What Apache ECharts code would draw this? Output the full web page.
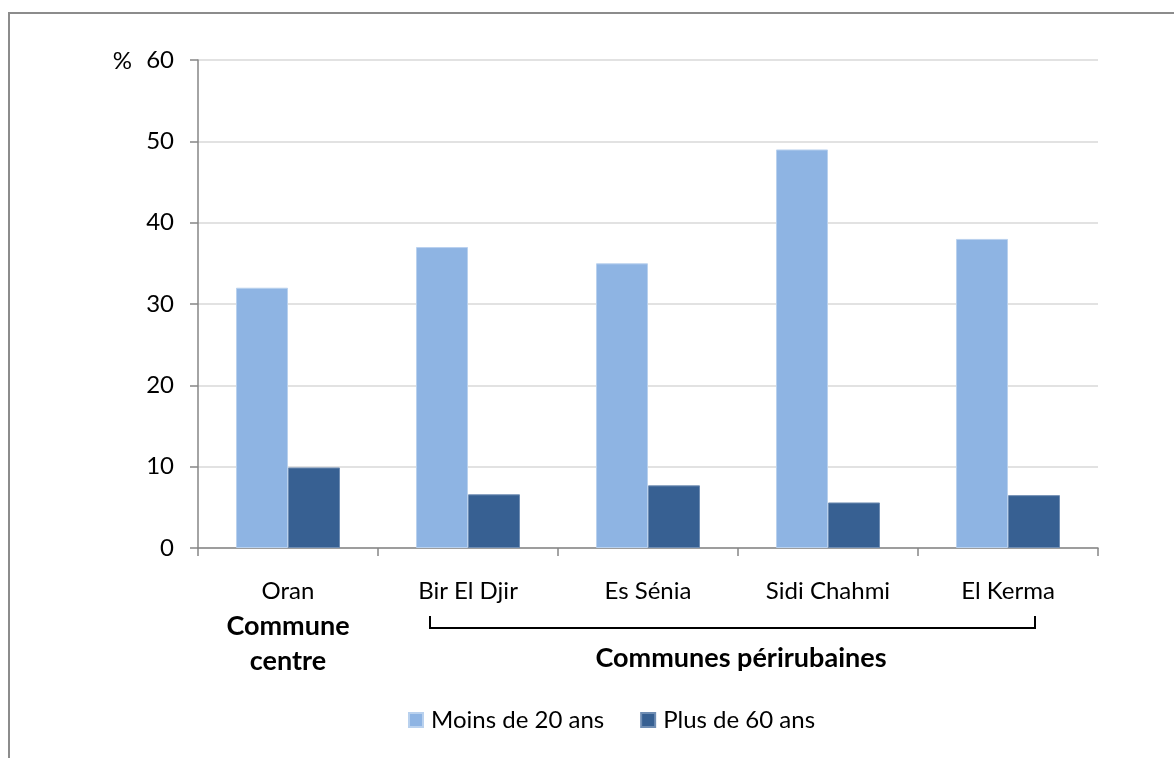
<!DOCTYPE html>
<html>
<head>
<meta charset="utf-8">
<script src="https://cdn.jsdelivr.net/npm/echarts@6/dist/echarts.min.js"></script>
<style>
  html, body { margin: 0; padding: 0; background: #ffffff; }
  #chart { width: 1174px; height: 758px; }
</style>
</head>
<body>
<div id="chart"></div>
<script>
// Communes of the Oran area and their age-group shares (%)
const communes = ['Oran', 'Bir El Djir', 'Es Sénia', 'Sidi Chahmi', 'El Kerma'];
const moinsDe20 = [32, 37, 35, 49, 38];
const plusDe60 = [9.9, 6.6, 7.7, 5.6, 6.5];
const seriesNames = ['Moins de 20 ans', 'Plus de 60 ans'];
const yTicks = { min: 0, max: 60, interval: 10 };

const FONT = 'Lato, "Open Sans", sans-serif';
const FS = 24;
const FSB = 27;
const chart = echarts.init(document.getElementById('chart'));

chart.setOption({
  animation: false,
  backgroundColor: '#ffffff',
  textStyle: { fontFamily: FONT },
  grid: { left: 198, right: 76, top: 60, bottom: 210, containLabel: false },
  legend: {
    data: seriesNames,
    bottom: 21,
    left: 403,
    itemWidth: 14,
    itemHeight: 14,
    itemGap: 36,
    icon: 'rect',
    textStyle: { fontSize: FS, color: '#000', fontFamily: FONT, padding: [0, 0, 0, 3] }
  },
  xAxis: {
    type: 'category',
    data: communes,
    axisLine: { lineStyle: { color: '#868686', width: 1.5 } },
    axisTick: { show: true, length: 8, lineStyle: { color: '#868686', width: 1.5 } },
    axisLabel: {
      margin: 26,
      interval: 0,
      color: '#000',
      fontSize: FS,
      fontFamily: FONT,
      lineHeight: 35,
      formatter: function (v, i) {
        return i === 0 ? '{n|' + v + '}\n{b|Commune}\n{b|centre}' : '{n|' + v + '}';
      },
      rich: {
        n: { fontSize: FS, fontFamily: FONT, color: '#000', lineHeight: 35 },
        b: { fontSize: FSB, fontFamily: FONT, fontWeight: 'bold', color: '#000', lineHeight: 35 }
      }
    }
  },
  yAxis: {
    type: 'value',
    min: yTicks.min,
    max: yTicks.max,
    interval: yTicks.interval,
    name: '%',
    nameLocation: 'end',
    nameGap: -13,
    nameTextStyle: { fontSize: FS, color: '#000', fontFamily: FONT, align: 'right', padding: [0, 66, 0, 0] },
    axisLine: { show: true, lineStyle: { color: '#868686', width: 1.5 } },
    axisTick: { show: true, length: 8, lineStyle: { color: '#868686', width: 1.5 } },
    axisLabel: { margin: 24, color: '#000', fontSize: FS, fontFamily: FONT },
    splitLine: { lineStyle: { color: '#D9D9D9', width: 1.5 } }
  },
  series: [
    {
      name: seriesNames[0],
      type: 'bar',
      data: moinsDe20,
      barWidth: 52,
      barGap: '0%',
      itemStyle: { color: '#8EB4E3', borderColor: '#B9D1EE', borderWidth: 1 }
    },
    {
      name: seriesNames[1],
      type: 'bar',
      data: plusDe60,
      barWidth: 52,
      barGap: '0%',
      itemStyle: { color: '#376092', borderColor: '#6F8DB3', borderWidth: 1 }
    }
  ],
  graphic: [
    // outer frame (top and left edges)
    { type: 'polyline', shape: { points: [[9, 758], [9, 13], [1174, 13]] },
      style: { stroke: '#8C8C8C', lineWidth: 2, fill: null }, silent: true },
    // bracket grouping the peri-urban communes
    { type: 'polyline', shape: { points: [[430, 616], [430, 628], [1035, 628], [1035, 616]] },
      style: { stroke: '#000', lineWidth: 2, fill: null }, silent: true },
    { type: 'text', x: 741, y: 658, silent: true, style: {
        text: 'Communes périrubaines',
        font: 'bold ' + FSB + 'px ' + FONT, fill: '#000', align: 'center', verticalAlign: 'middle' } }
  ]
});
</script>
</body>
</html>
